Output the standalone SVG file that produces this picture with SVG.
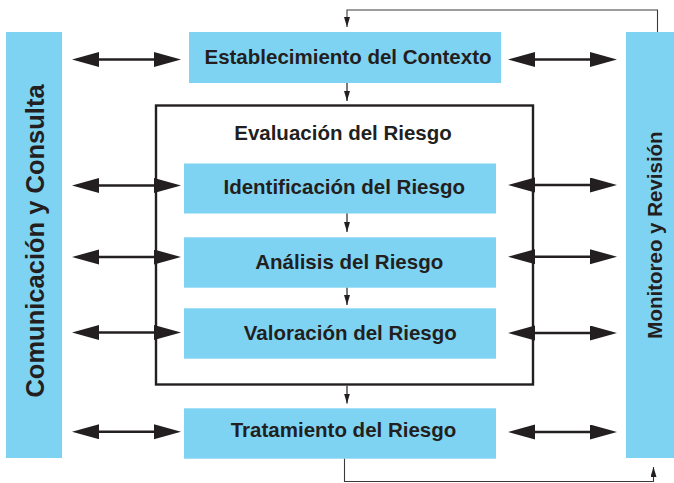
<svg xmlns="http://www.w3.org/2000/svg" width="674" height="483" viewBox="0 0 674 483">
  <style>
    .box { fill: #7fd3f2; }
    .frame { fill: none; stroke: #231f20; stroke-width: 2.4; }
    .lbl { font-family: "Liberation Sans", Arial, Helvetica, sans-serif; font-weight: bold; font-size: 20.5px; fill: #231f20; text-anchor: middle; }
    .big { font-size: 25.5px; }
    .dbl { stroke: #231f20; stroke-width: 2.6; fill: none; marker-start: url(#head); marker-end: url(#head); }
    .flow { stroke: #231f20; stroke-width: 1.2; fill: none; marker-end: url(#small); }
    .fb { stroke: #3a3a3a; stroke-width: 1.1; fill: none; marker-end: url(#small); }
  </style>
  <defs>
    <marker id="head" markerUnits="userSpaceOnUse" markerWidth="28" markerHeight="16" refX="17" refY="7.5" orient="auto-start-reverse" viewBox="0 0 28 16">
      <path d="M0,0 L27,7.5 L0,15 z" fill="#231f20"/>
    </marker>
    <marker id="small" markerUnits="userSpaceOnUse" markerWidth="11" markerHeight="7" refX="10" refY="3" orient="auto" viewBox="0 0 11 7">
      <path d="M0,0 L10,3 L0,6 z" fill="#231f20"/>
    </marker>
  </defs>

  <g id="comunicacion">
    <rect class="box" x="6" y="32" width="56" height="426"/>
    <text class="lbl big" transform="translate(44,241) rotate(-90)">Comunicación y Consulta</text>
  </g>

  <g id="monitoreo">
    <rect class="box" x="626" y="32" width="56" height="426"/>
    <text class="lbl" transform="translate(661.5,235) rotate(-90)">Monitoreo y Revisión</text>
  </g>

  <g id="contexto">
    <rect class="box" x="189" y="32" width="312" height="51"/>
    <text class="lbl" x="348" y="64.3">Establecimiento del Contexto</text>
  </g>

  <g id="evaluacion">
    <rect class="frame" x="156" y="105.5" width="377" height="279"/>
    <text class="lbl" x="343" y="140">Evaluación del Riesgo</text>
  </g>

  <g id="identificacion">
    <rect class="box" x="184" y="163.5" width="312" height="50"/>
    <text class="lbl" x="344.2" y="194">Identificación del Riesgo</text>
  </g>

  <g id="analisis">
    <rect class="box" x="184" y="237.3" width="312" height="50.4"/>
    <text class="lbl" x="349.2" y="269.3">Análisis del Riesgo</text>
  </g>

  <g id="valoracion">
    <rect class="box" x="184" y="308.3" width="312" height="50.4"/>
    <text class="lbl" x="350.3" y="340">Valoración del Riesgo</text>
  </g>

  <g id="tratamiento">
    <rect class="box" x="184" y="408.3" width="312" height="50.4"/>
    <text class="lbl" x="343.5" y="436.7">Tratamiento del Riesgo</text>
  </g>

  <g id="connectors">
    <!-- left double arrows -->
    <path class="dbl" d="M82,59.5 H171"/>
    <path class="dbl" d="M82,185.5 H171"/>
    <path class="dbl" d="M82,257 H171"/>
    <path class="dbl" d="M82,332.5 H171"/>
    <path class="dbl" d="M82,431.7 H171"/>
    <!-- right double arrows -->
    <path class="dbl" d="M518,59.5 H607"/>
    <path class="dbl" d="M518,185 H607"/>
    <path class="dbl" d="M518,256.7 H607"/>
    <path class="dbl" d="M518,333 H607"/>
    <path class="dbl" d="M518,432 H607"/>
    <!-- flow arrows -->
    <path class="flow" d="M347,83 V101"/>
    <path class="flow" d="M347,213.5 V232"/>
    <path class="flow" d="M347,287.7 V305"/>
    <path class="flow" d="M347,385.7 V403.5"/>
    <!-- feedback loops -->
    <path class="fb" d="M657.5,32 V10 H347 V27"/>
    <path class="fb" d="M344.5,458.7 V481.5 H653.5 V467"/>
  </g>
</svg>
